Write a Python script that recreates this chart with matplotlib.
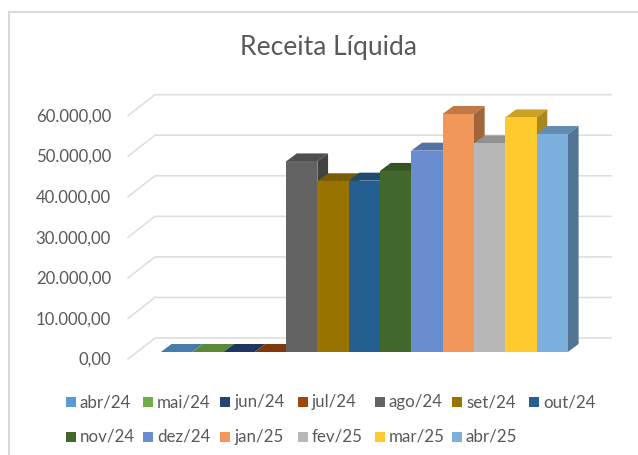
import matplotlib
matplotlib.use("Agg")
import matplotlib.pyplot as plt
from matplotlib.lines import Line2D
from matplotlib.patches import Polygon, Rectangle
from matplotlib.colors import to_rgb
from matplotlib.transforms import ScaledTranslation

months = ["abr/24", "mai/24", "jun/24", "jul/24", "ago/24", "set/24", "out/24",
          "nov/24", "dez/24", "jan/25", "fev/25", "mar/25", "abr/25"]
values = [0, 0, 0, 0, 47000, 42100, 42250, 44650, 49650, 58700, 51450, 57850, 53750]
colors = ["#5B9BD5", "#70AD47", "#264478", "#9E480E", "#636363", "#997300", "#255E91",
          "#43682B", "#698ED0", "#F1975A", "#B7B7B7", "#FFCA2E", "#7CAFDD"]
y_ticks = [0, 10000, 20000, 30000, 40000, 50000, 60000]
y_labels = ["0,00", "10.000,00", "20.000,00", "30.000,00", "40.000,00", "50.000,00", "60.000,00"]

W, H = 638, 455
TEXT = "#595959"
GRID = "#dcdcdc"

plt.rcParams["font.family"] = ["Lato", "DejaVu Sans"]

fig = plt.figure(figsize=(W / 100, H / 100), dpi=100, facecolor="white")

# front plane of the bars, in pixels of the picture
left, right, base, top = 160.8, 567.9, 352.0, 108.7
ax = fig.add_axes([left / W, 1 - base / H, (right - left) / W, (base - top) / H])
ax.set_xlim(-0.5, 12.5)
ax.set_ylim(0, 60000)
ax.patch.set_visible(False)
for s in ax.spines.values():
    s.set_visible(False)

px_x = 13 / (right - left)
px_y = 60000 / (base - top)


def shade(c, f):
    return tuple(v * f for v in to_rgb(c))


# gridlines on the back wall and their diagonals on the side wall
for v in y_ticks:
    xs = [left - 32.8, left - 5.8, 611]
    ys = [base + 7, base - 14, base - 14]
    ax.plot([-0.5 + (x - left) * px_x for x in xs],
            [v + (base - y) * px_y for y in ys],
            color=GRID, lw=1.1, clip_on=False, zorder=1, solid_joinstyle="miter")

# depth of one bar
dx = 10.7 * px_x
dy = 8 * px_y

for i, (v, c) in enumerate(zip(values, colors)):
    x0, x1 = i - 0.5, i + 0.5
    ax.add_patch(Polygon([(x0, v), (x1, v), (x1 + dx, v + dy), (x0 + dx, v + dy)],
                         closed=True, fc=shade(c, 0.8), lw=0, clip_on=False, zorder=2 + i))
    ax.add_patch(Polygon([(x1, 0), (x1 + dx, dy), (x1 + dx, v + dy), (x1, v)],
                         closed=True, fc=shade(c, 0.67), lw=0, clip_on=False, zorder=2 + i))
    ax.bar(i, v, width=1, color=c, lw=0, clip_on=False, zorder=2 + i)

ax.set_xticks([])
ax.set_yticks(y_ticks, y_labels)
ax.tick_params(axis="y", length=0, pad=35.9, labelsize=12.1, labelcolor=TEXT)
shift = ScaledTranslation(0, -6.3 / 100, fig.dpi_scale_trans)
for lab in ax.get_yticklabels():
    lab.set_transform(lab.get_transform() + shift)

# outer frame, only left and top are in the picture
fig.add_artist(Line2D([9 / W, 9 / W, 1], [0, 1 - 12 / H, 1 - 12 / H],
                      transform=fig.transFigure, color="#d9d9d9", lw=1.5,
                      solid_joinstyle="miter"))

fig.text(328 / W, 1 - 47 / H, "Receita Líquida", ha="center", va="center",
         fontsize=19.1, color=TEXT)

# legend, two rows on a regular spacing
for i, (m, c) in enumerate(zip(months, colors)):
    row, col = divmod(i, 7)
    x = 66 + col * 77.2
    y = 402 + row * 35
    fig.add_artist(Rectangle((x / W, 1 - (y + 5) / H), 10 / W, 10 / H, fc=c, lw=0,
                             transform=fig.transFigure))
    fig.text((x + 14) / W, 1 - y / H, m, ha="left", va="center", fontsize=12.2, color=TEXT)

fig.savefig("out.png", dpi=100)
